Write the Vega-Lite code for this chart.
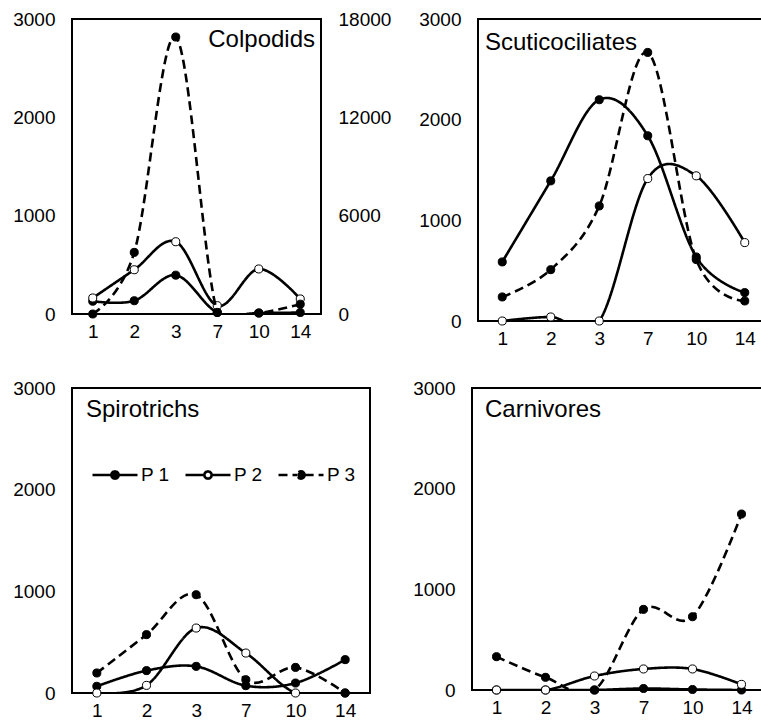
{
  "$schema": "https://vega.github.io/schema/vega-lite/v6.json",
  "padding": {"left": 11, "top": 9, "right": 0, "bottom": 0},
  "background": "white",
  "config": {
    "font": "Liberation Sans",
    "view": {"stroke": "black", "strokeWidth": 2},
    "axis": {"grid": false, "ticks": false, "domain": false, "labelFontSize": 19, "labelColor": "black", "title": null, "labelPadding": 17, "labelFont": "Liberation Sans"},
    "axisX": {"labelPadding": 8, "labelAngle": 0},
    "title": {"fontSize": 24, "fontWeight": "normal", "color": "black", "frame": "group", "font": "Liberation Sans", "baseline": "top"}
  },
  "datasets": {
    "d": [
      {"panel": "Colpodids", "day": 1, "series": "P 1", "value": 130},
      {"panel": "Colpodids", "day": 2, "series": "P 1", "value": 135},
      {"panel": "Colpodids", "day": 3, "series": "P 1", "value": 395},
      {"panel": "Colpodids", "day": 7, "series": "P 1", "value": 15},
      {"panel": "Colpodids", "day": 10, "series": "P 1", "value": 10},
      {"panel": "Colpodids", "day": 14, "series": "P 1", "value": 15},
      {"panel": "Colpodids", "day": 1, "series": "P 2", "value": 163},
      {"panel": "Colpodids", "day": 2, "series": "P 2", "value": 450},
      {"panel": "Colpodids", "day": 3, "series": "P 2", "value": 735},
      {"panel": "Colpodids", "day": 7, "series": "P 2", "value": 85},
      {"panel": "Colpodids", "day": 10, "series": "P 2", "value": 458},
      {"panel": "Colpodids", "day": 14, "series": "P 2", "value": 153},
      {"panel": "Colpodids", "day": 1, "series": "P 3", "value": 0},
      {"panel": "Colpodids", "day": 2, "series": "P 3", "value": 3760},
      {"panel": "Colpodids", "day": 3, "series": "P 3", "value": 16900},
      {"panel": "Colpodids", "day": 7, "series": "P 3", "value": 100},
      {"panel": "Colpodids", "day": 10, "series": "P 3", "value": 60},
      {"panel": "Colpodids", "day": 14, "series": "P 3", "value": 600},
      {"panel": "Scuticociliates", "day": 1, "series": "P 1", "value": 587},
      {"panel": "Scuticociliates", "day": 2, "series": "P 1", "value": 1392},
      {"panel": "Scuticociliates", "day": 3, "series": "P 1", "value": 2198},
      {"panel": "Scuticociliates", "day": 7, "series": "P 1", "value": 1840},
      {"panel": "Scuticociliates", "day": 10, "series": "P 1", "value": 636},
      {"panel": "Scuticociliates", "day": 14, "series": "P 1", "value": 282},
      {"panel": "Scuticociliates", "day": 1, "series": "P 2", "value": 0},
      {"panel": "Scuticociliates", "day": 2, "series": "P 2", "value": 40},
      {"panel": "Scuticociliates", "day": 3, "series": "P 2", "value": 0},
      {"panel": "Scuticociliates", "day": 7, "series": "P 2", "value": 1415},
      {"panel": "Scuticociliates", "day": 10, "series": "P 2", "value": 1442},
      {"panel": "Scuticociliates", "day": 14, "series": "P 2", "value": 779},
      {"panel": "Scuticociliates", "day": 1, "series": "P 3", "value": 239},
      {"panel": "Scuticociliates", "day": 2, "series": "P 3", "value": 510},
      {"panel": "Scuticociliates", "day": 3, "series": "P 3", "value": 1143},
      {"panel": "Scuticociliates", "day": 7, "series": "P 3", "value": 2668},
      {"panel": "Scuticociliates", "day": 10, "series": "P 3", "value": 610},
      {"panel": "Scuticociliates", "day": 14, "series": "P 3", "value": 199},
      {"panel": "Spirotrichs", "day": 1, "series": "P 1", "value": 66},
      {"panel": "Spirotrichs", "day": 2, "series": "P 1", "value": 220},
      {"panel": "Spirotrichs", "day": 3, "series": "P 1", "value": 262},
      {"panel": "Spirotrichs", "day": 7, "series": "P 1", "value": 72},
      {"panel": "Spirotrichs", "day": 10, "series": "P 1", "value": 98},
      {"panel": "Spirotrichs", "day": 14, "series": "P 1", "value": 328},
      {"panel": "Spirotrichs", "day": 1, "series": "P 2", "value": 0},
      {"panel": "Spirotrichs", "day": 2, "series": "P 2", "value": 75},
      {"panel": "Spirotrichs", "day": 3, "series": "P 2", "value": 639},
      {"panel": "Spirotrichs", "day": 7, "series": "P 2", "value": 393},
      {"panel": "Spirotrichs", "day": 10, "series": "P 2", "value": 0},
      {"panel": "Spirotrichs", "day": 14, "series": "P 2", "value": 0},
      {"panel": "Spirotrichs", "day": 1, "series": "P 3", "value": 197},
      {"panel": "Spirotrichs", "day": 2, "series": "P 3", "value": 574},
      {"panel": "Spirotrichs", "day": 3, "series": "P 3", "value": 967},
      {"panel": "Spirotrichs", "day": 7, "series": "P 3", "value": 131},
      {"panel": "Spirotrichs", "day": 10, "series": "P 3", "value": 252},
      {"panel": "Spirotrichs", "day": 14, "series": "P 3", "value": 0},
      {"panel": "Carnivores", "day": 1, "series": "P 1", "value": 0},
      {"panel": "Carnivores", "day": 2, "series": "P 1", "value": 0},
      {"panel": "Carnivores", "day": 3, "series": "P 1", "value": 0},
      {"panel": "Carnivores", "day": 7, "series": "P 1", "value": 15},
      {"panel": "Carnivores", "day": 10, "series": "P 1", "value": 5},
      {"panel": "Carnivores", "day": 14, "series": "P 1", "value": 0},
      {"panel": "Carnivores", "day": 1, "series": "P 2", "value": 0},
      {"panel": "Carnivores", "day": 2, "series": "P 2", "value": 0},
      {"panel": "Carnivores", "day": 3, "series": "P 2", "value": 139},
      {"panel": "Carnivores", "day": 7, "series": "P 2", "value": 209},
      {"panel": "Carnivores", "day": 10, "series": "P 2", "value": 209},
      {"panel": "Carnivores", "day": 14, "series": "P 2", "value": 56},
      {"panel": "Carnivores", "day": 1, "series": "P 3", "value": 331},
      {"panel": "Carnivores", "day": 2, "series": "P 3", "value": 126},
      {"panel": "Carnivores", "day": 3, "series": "P 3", "value": 0},
      {"panel": "Carnivores", "day": 7, "series": "P 3", "value": 801},
      {"panel": "Carnivores", "day": 10, "series": "P 3", "value": 728},
      {"panel": "Carnivores", "day": 14, "series": "P 3", "value": 1748}
    ]
  },
  "data": {"name": "d"},
  "resolve": {"scale": {"strokeDash": "independent", "fill": "independent"}, "legend": {"strokeDash": "independent", "fill": "independent"}},
  "spacing": 29,
  "vconcat": [
    {
      "spacing": 25,
      "resolve": {"scale": {"strokeDash": "independent", "fill": "independent"}, "legend": {"strokeDash": "independent", "fill": "independent"}},
      "hconcat": [
        {
          "width": 249, "height": 295,
          "title": {"text": "Colpodids", "anchor": "end", "dx": -6, "dy": 20, "offset": -22},
          "transform": [{"filter": "datum.panel === 'Colpodids'"}],
          "encoding": {
            "x": {"field": "day", "type": "ordinal", "scale": {"type": "point", "padding": 0.5}}
          },
          "layer": [
            {
              "transform": [{"filter": "datum.series !== 'P 3'"}],
              "encoding": {
                "y": {"field": "value", "type": "quantitative", "scale": {"domain": [0, 3000], "nice": false}, "axis": {"values": [0, 1000, 2000, 3000], "format": "d"}}
              },
              "layer": [
                {"mark": {"type": "line", "interpolate": "cardinal", "color": "black", "strokeWidth": 2.6, "clip": true},
                 "encoding": {"strokeDash": {"field": "series", "type": "nominal", "scale": {"domain": ["P 1", "P 2", "P 3"], "range": [[1, 0], [1, 0], [9, 5]]}, "legend": null}}},
                {"mark": {"type": "circle", "stroke": "black", "strokeWidth": 1, "size": 65, "opacity": 1},
                 "encoding": {"fill": {"field": "series", "type": "nominal", "scale": {"domain": ["P 1", "P 2", "P 3"], "range": ["black", "white", "black"]}, "legend": null}}}
              ]
            },
            {
              "transform": [{"filter": "datum.series === 'P 3'"}],
              "encoding": {
                "y": {"field": "value", "type": "quantitative", "scale": {"domain": [0, 18000], "nice": false}, "axis": {"orient": "right", "values": [0, 6000, 12000, 18000], "format": "d"}}
              },
              "layer": [
                {"mark": {"type": "line", "interpolate": "cardinal", "color": "black", "strokeWidth": 2.6, "clip": true},
                 "encoding": {"strokeDash": {"field": "series", "type": "nominal", "scale": {"domain": ["P 1", "P 2", "P 3"], "range": [[1, 0], [1, 0], [9, 5]]}, "legend": null}}},
                {"mark": {"type": "circle", "stroke": "black", "strokeWidth": 1, "size": 65, "opacity": 1},
                 "encoding": {"fill": {"field": "series", "type": "nominal", "scale": {"domain": ["P 1", "P 2", "P 3"], "range": ["black", "white", "black"]}, "legend": null}}}
              ]
            }
          ],
          "resolve": {"scale": {"y": "independent"}}
        },
        {
          "width": 291, "height": 302,
          "title": {"text": "Scuticociliates", "anchor": "start", "dx": 7, "dy": 22, "offset": -23},
          "transform": [{"filter": "datum.panel === 'Scuticociliates'"}],
          "encoding": {
            "x": {"field": "day", "type": "ordinal", "scale": {"type": "point", "padding": 0.5}},
            "y": {"field": "value", "type": "quantitative", "scale": {"domain": [0, 3000], "nice": false}, "axis": {"values": [0, 1000, 2000, 3000], "format": "d"}}
          },
          "layer": [
            {"mark": {"type": "line", "interpolate": "cardinal", "color": "black", "strokeWidth": 2.6, "clip": true},
             "encoding": {"strokeDash": {"field": "series", "type": "nominal", "scale": {"domain": ["P 1", "P 2", "P 3"], "range": [[1, 0], [1, 0], [9, 5]]}, "legend": null}}},
            {"mark": {"type": "circle", "stroke": "black", "strokeWidth": 1, "size": 65, "opacity": 1},
             "encoding": {"fill": {"field": "series", "type": "nominal", "scale": {"domain": ["P 1", "P 2", "P 3"], "range": ["black", "white", "black"]}, "legend": null}}}
          ]
        }
      ]
    },
    {
      "spacing": 40,
      "resolve": {"scale": {"strokeDash": "independent", "fill": "independent"}, "legend": {"strokeDash": "independent", "fill": "independent"}},
      "hconcat": [
        {
          "width": 298, "height": 305,
          "title": {"text": "Spirotrichs", "anchor": "start", "dx": 14, "dy": 21, "offset": -22},
          "transform": [{"filter": "datum.panel === 'Spirotrichs'"}],
          "encoding": {
            "x": {"field": "day", "type": "ordinal", "scale": {"type": "point", "padding": 0.5}},
            "y": {"field": "value", "type": "quantitative", "scale": {"domain": [0, 3000], "nice": false}, "axis": {"values": [0, 1000, 2000, 3000], "format": "d"}}
          },
          "layer": [
            {"mark": {"type": "line", "interpolate": "cardinal", "color": "black", "strokeWidth": 2.6, "clip": true},
             "encoding": {"strokeDash": {"field": "series", "type": "nominal", "scale": {"domain": ["P 1", "P 2", "P 3"], "range": [[1, 0], [1, 0], [9, 5]]},
               "legend": {"orient": "none", "legendX": 19, "legendY": 63, "direction": "horizontal", "title": null, "padding": 0,
                 "symbolType": "M-1,0H-0.16M0.16,0H1M0.16,0A0.16,0.16,0,1,1,-0.16,0A0.16,0.16,0,1,1,0.16,0Z",
                 "symbolSize": 2025, "symbolStrokeWidth": 2.6, "symbolStrokeColor": "black",
                 "labelFontSize": 19, "labelColor": "black", "labelOffset": 2, "columnPadding": 10, "labelFont": "Liberation Sans",
                 "encode": {"symbols": {"update": {"fill": {"signal": "datum.value === 'P 2' ? 'white' : 'black'"}, "stroke": {"value": "black"}, "opacity": {"value": 1}}}}}}}},
            {"mark": {"type": "circle", "stroke": "black", "strokeWidth": 1, "size": 65, "opacity": 1},
             "encoding": {"fill": {"field": "series", "type": "nominal", "scale": {"domain": ["P 1", "P 2", "P 3"], "range": ["black", "white", "black"]}, "legend": null}}}
          ]
        },
        {
          "width": 294, "height": 302,
          "title": {"text": "Carnivores", "anchor": "start", "dx": 13, "dy": 20, "offset": -23},
          "transform": [{"filter": "datum.panel === 'Carnivores'"}],
          "encoding": {
            "x": {"field": "day", "type": "ordinal", "scale": {"type": "point", "padding": 0.5}},
            "y": {"field": "value", "type": "quantitative", "scale": {"domain": [0, 3000], "nice": false}, "axis": {"values": [0, 1000, 2000, 3000], "format": "d"}}
          },
          "layer": [
            {"mark": {"type": "line", "interpolate": "cardinal", "color": "black", "strokeWidth": 2.6, "clip": true},
             "encoding": {"strokeDash": {"field": "series", "type": "nominal", "scale": {"domain": ["P 1", "P 2", "P 3"], "range": [[1, 0], [1, 0], [9, 5]]}, "legend": null}}},
            {"mark": {"type": "circle", "stroke": "black", "strokeWidth": 1, "size": 65, "opacity": 1},
             "encoding": {"fill": {"field": "series", "type": "nominal", "scale": {"domain": ["P 1", "P 2", "P 3"], "range": ["black", "white", "black"]}, "legend": null}}}
          ]
        }
      ]
    }
  ]
}
